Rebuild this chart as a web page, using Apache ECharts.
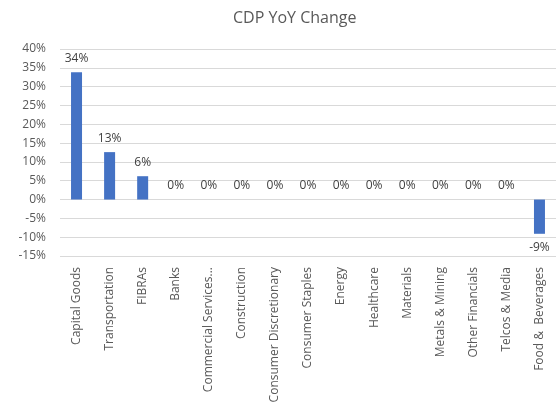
<!DOCTYPE html>
<html><head><meta charset="utf-8">
<script src="https://cdn.jsdelivr.net/npm/echarts@6/dist/echarts.min.js"></script>
<style>html,body{margin:0;padding:0;background:#fff}#c{width:556px;height:413px}</style>
</head><body><div id="c"></div>
<script>
const categories = ["Capital Goods","Transportation","FIBRAs","Banks","Commercial Services...","Construction","Consumer Discretionary","Consumer Staples","Energy","Healthcare","Materials","Metals & Mining","Other Financials","Telcos & Media","Food &  Beverages"];
const values = [33.8, 12.6, 6.2, 0, 0, 0, 0, 0, 0, 0, 0, 0, 0, 0, -9.1];
const yTicks = {min: -15, max: 40, interval: 5};
const font = '"Open Sans", "Noto Sans", sans-serif';
const chart = echarts.init(document.getElementById('c'));
chart.setOption({
  animation: false,
  title: {text: 'CDP YoY Change', left: 228, top: 5, textStyle: {fontFamily: font, fontSize: 16, fontWeight: 'normal', color: '#595959'}},
  grid: {left: 60, right: 0, top: 49, bottom: 157, containLabel: false},
  xAxis: {type: 'category', data: categories,
    axisLine: {show: false}, axisTick: {show: false},
    axisLabel: {rotate: 90, interval: 0, margin: 11, fontFamily: font, fontSize: 12, color: '#595959'}},
  yAxis: {type: 'value', min: yTicks.min, max: yTicks.max, interval: yTicks.interval,
    axisLine: {show: false}, axisTick: {show: false},
    splitLine: {lineStyle: {color: '#d9d9d9', width: 1}},
    axisLabel: {formatter: v => v + '%', margin: 14, fontFamily: font, fontSize: 12, color: '#595959'}},
  series: [{type: 'bar', barWidth: 11, itemStyle: {color: '#4472c4'},
    data: values.map(v => v < 0 ? {value: v, label: {position: 'bottom'}} : v),
    label: {show: true, position: 'top', distance: 8, formatter: p => Math.round(p.value) + '%', fontFamily: font, fontSize: 12, color: '#404040'}}]
});
</script></body></html>
